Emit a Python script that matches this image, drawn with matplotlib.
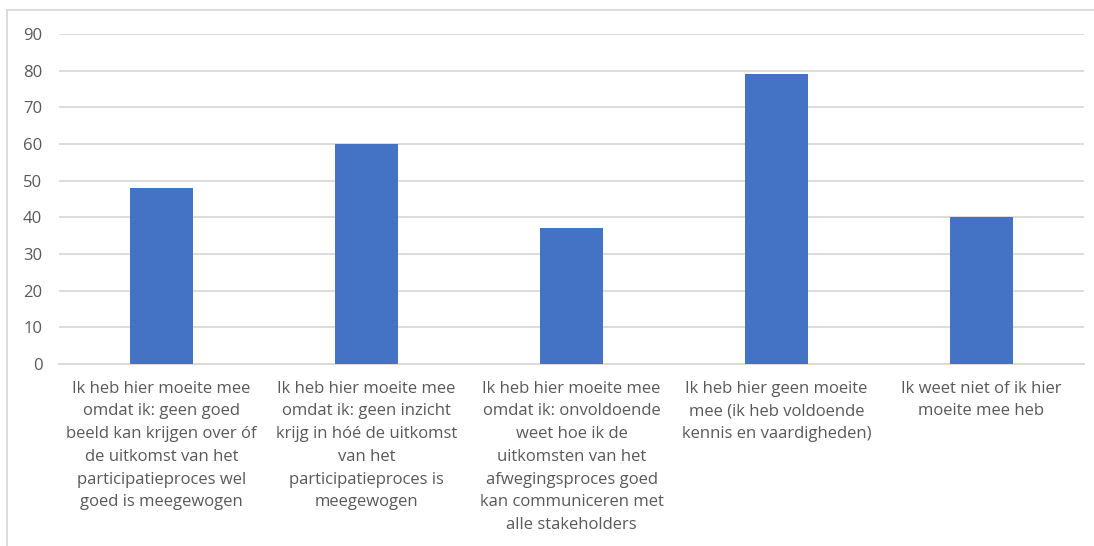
import numpy as np
import matplotlib.pyplot as plt
from matplotlib.lines import Line2D

# categories (wrapped as in the chart) and counts
labels = [
    "Ik heb hier moeite mee\nomdat ik: geen goed\nbeeld kan krijgen over óf\nde uitkomst van het\nparticipatieproces wel\ngoed is meegewogen",
    "Ik heb hier moeite mee\nomdat ik: geen inzicht\nkrijg in hóé de uitkomst\nvan het\nparticipatieproces is\nmeegewogen",
    "Ik heb hier moeite mee\nomdat ik: onvoldoende\nweet hoe ik de\nuitkomsten van het\nafwegingsproces goed\nkan communiceren met\nalle stakeholders",
    "Ik heb hier geen moeite\nmee (ik heb voldoende\nkennis en vaardigheden)",
    "Ik weet niet of ik hier\nmoeite mee heb",
]
values = [48, 60, 37, 79, 40]
yticks = list(range(0, 100, 10))

plt.rcParams['font.family'] = ['Open Sans', 'DejaVu Sans']
grey = '#595959'

fig = plt.figure(figsize=(10.94, 5.46), dpi=100)
ax = fig.add_axes([59/1094, 1-364/546, (1084-59)/1094, (364-34)/546])

x = np.arange(len(values))
ax.bar(x, values, width=0.31, color='#4472C4', zorder=3)

ax.set_xlim(-0.5, len(values)-0.5)
ax.set_ylim(0, 90)
ax.set_yticks(yticks)
ax.set_xticks(x)
ax.set_xticklabels(labels, fontsize=12, color=grey, linespacing=1.56)
ax.tick_params(axis='y', labelsize=12, labelcolor=grey, length=0, pad=12)
ax.tick_params(axis='x', length=0, pad=12)
ax.grid(axis='y', color='#D9D9D9', linewidth=1.3, zorder=0)
for s in ['top', 'right', 'left']:
    ax.spines[s].set_visible(False)
ax.spines['bottom'].set_color('#D9D9D9')
ax.spines['bottom'].set_linewidth(1.3)

# chart frame (only top and left visible in the crop)
fig.add_artist(Line2D([7/1094, 1], [1-10/546, 1-10/546], color='#D9D9D9', lw=1.3))
fig.add_artist(Line2D([7/1094, 7/1094], [0, 1-10/546], color='#D9D9D9', lw=1.3))

plt.savefig('out.png', dpi=100)
